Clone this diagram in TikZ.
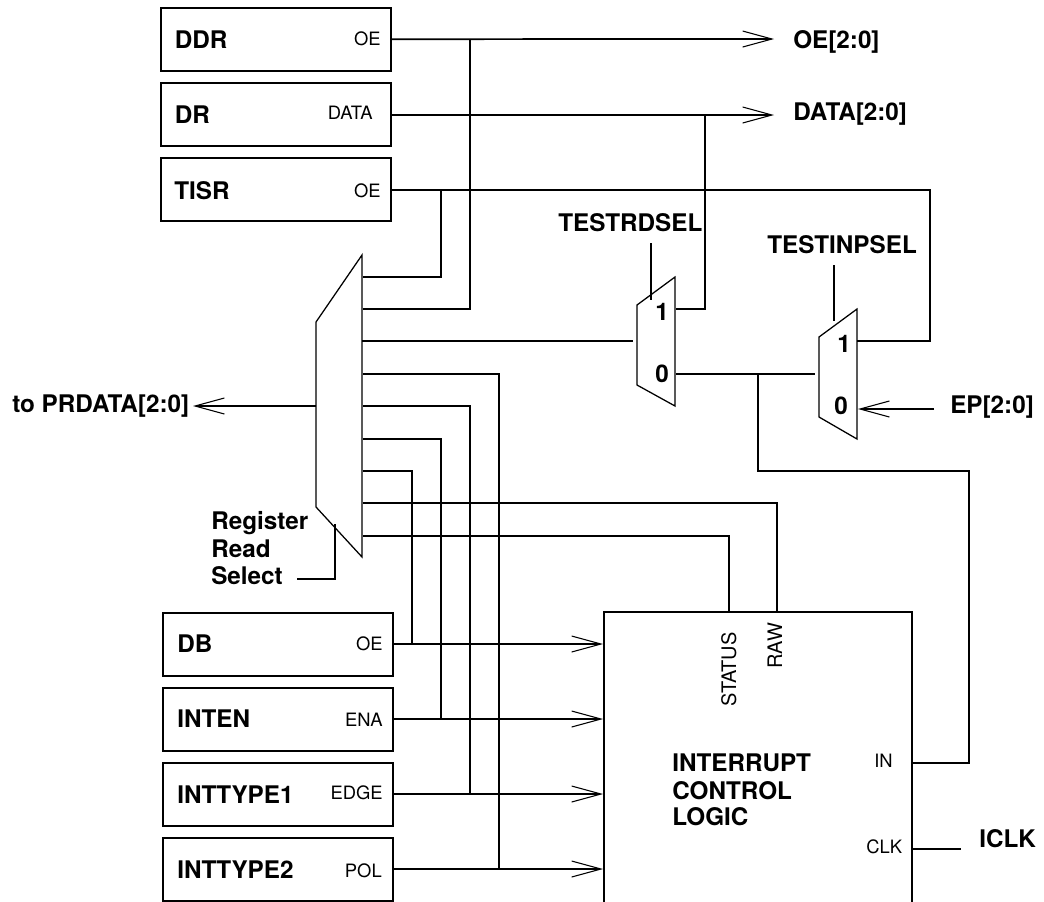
\documentclass[tikz,border=0pt]{standalone}
\usepackage{fontspec}
\setmainfont{TeX Gyre Heros}
\usetikzlibrary{arrows.meta}
\tikzset{
  regbox/.style={draw=black,line width=1.5pt,fill=none,minimum width=172.5pt,minimum height=47.5pt,inner sep=0pt,outer sep=0pt,anchor=north west},
  wire/.style={line width=1.3pt},
  thinwire/.style={line width=0.95pt},
  oarrow/.style={-{Straight Barb[length=22pt,width=12pt,line width=0.8pt]}},
  big/.style={font=\fontsize{18.2}{20}\selectfont\bfseries,inner sep=0pt,anchor=base west},
  small/.style={font=\fontsize{13.8}{16}\selectfont,inner sep=0pt,anchor=base east},
  smallw/.style={font=\fontsize{13.8}{16}\selectfont,inner sep=0pt,anchor=base west},
  smallr/.style={font=\fontsize{15}{16}\selectfont,inner sep=0pt,anchor=base west,rotate=90},
}
\begin{document}
\begin{tikzpicture}[x=0.75pt,y=-0.75pt]
\useasboundingbox (0,0) rectangle (1044,901);
\clip (0,0) rectangle (1044,901);
% register boxes
\node[regbox] (ddr) at (160.5,7.5) {};
\node[regbox] (dr) at (160.5,82.5) {};
\node[regbox] (tisr) at (160.5,158) {};
\node[regbox] (db) at (163,612.5) {};
\node[regbox] (inten) at (163,687.5) {};
\node[regbox] (type1) at (163,763) {};
\node[regbox] (type2) at (163,838) {};
\node[regbox,minimum width=231pt,minimum height=300pt] (icl) at (604,612) {};
% multiplexers
\coordinate (mA) at (362,255); \coordinate (mB) at (316,322); \coordinate (mC) at (316,507); \coordinate (mD) at (362,557);
\draw[thinwire,line join=miter] (mA)--(mB)--(mC)--(mD)--cycle;
\coordinate (xA) at (675,277); \coordinate (xB) at (637,305); \coordinate (xC) at (637,385); \coordinate (xD) at (675,406);
\draw[thinwire] (xA)--(xB)--(xC)--(xD)--cycle;
\coordinate (yA) at (857,309); \coordinate (yB) at (819,337); \coordinate (yC) at (819,417); \coordinate (yD) at (857,439);
\draw[thinwire] (yA)--(yB)--(yC)--(yD)--cycle;
% text
\node[big] (tddr) at (174.5,48) {DDR};
\node[big] (tdr) at (174.5,123) {DR};
\node[big] (ttisr) at (174,199) {TISR};
\node[small] (soe1) at (381,45.5) {OE};
\node[small] (sdata) at (373,119) {DATA};
\node[small] (soe2) at (381,197) {OE};
\node[big] (toe) at (793,48) {OE[2:0]};
\node[big] (tdata) at (793,120) {DATA[2:0]};
\node[big] (trd) at (558,231) {TESTRDSEL};
\node[big] (tinp) at (767,253) {TESTINPSEL};
\node[big] (xone) at (655,320) {1};
\node[big] (xzero) at (655,382) {0};
\node[big] (yone) at (837,352) {1};
\node[big] (yzero) at (834,414) {0};
\node[big] (tep) at (950,413) {EP[2:0]};
\node[big] (tpr) at (12,412) {to PRDATA[2:0]};
\node[big] (r1) at (211,529) {Register};
\node[big] (r2) at (211,557) {Read};
\node[big] (r3) at (211,584) {Select};
\node[big] (tdb) at (177,652) {DB};
\node[big] (tinten) at (177,727) {INTEN};
\node[big] (tt1) at (177,803) {INTTYPE1};
\node[big] (tt2) at (177,878) {INTTYPE2};
\node[small] (soe3) at (383,650) {OE};
\node[small] (sena) at (383,726) {ENA};
\node[small] (sedge) at (383,799) {EDGE};
\node[small] (spol) at (382,877) {POL};
\node[smallr] (sstat) at (736,707) {STATUS};
\node[smallr] (sraw) at (782,669) {RAW};
\node[big] (i1) at (672,771) {INTERRUPT};
\node[big] (i2) at (672,799) {CONTROL};
\node[big] (i3) at (672,825) {LOGIC};
\node[smallw] (sin) at (874,767) {IN};
\node[smallw] (sclk) at (866,853) {CLK};
\node[big] (ticlk) at (979,847) {ICLK};
% end points
\coordinate (oeend) at (774,39);
\coordinate (dataend) at (774,115);
\coordinate (prend) at (193,406);
\coordinate (epstart) at (934,409);
\coordinate (eptip) at (858,409);
\coordinate (clkend) at (961,849);
\coordinate (xin) at (633,341);
\coordinate (yin) at (815,374);
\coordinate (rdtop) at (651,243);
\coordinate (rdbot) at (651,300);
\coordinate (inptop) at (834,265);
\coordinate (inpbot) at (834,321);
\coordinate (selA) at (335,524);
\coordinate (selB) at (335,579);
\coordinate (selC) at (297,579);
% top wires
\draw[wire,oarrow] (ddr.east) -- (oeend);
\draw[wire,oarrow] (391,115) -- (dataend);
\draw[wire] (391,190) -- (930,190) -- (930,341) -- (857,341);
\draw[wire] (470,39) -- (470,309) -- (363,309);
\draw[wire] (441,190) -- (441,277) -- (363,277);
\draw[wire] (362,341) -- (xin);
\draw[wire] (676,309) -- (705,309) -- (705,115);
\draw[wire] (676,374) -- (yin);
\draw[wire] (758,374) -- (758,471) -- (969,471) -- (969,763) -- (912,763);
\draw[wire] (912,849) -- (clkend);
\draw[wire,oarrow] (316,406) -- (prend);
\draw[wire,oarrow] (epstart) -- (eptip);
\draw[wire] (rdtop) -- (rdbot);
\draw[wire] (inptop) -- (inpbot);
\draw[wire] (selA) -- (selB) -- (selC);
% mux to lower registers
\draw[wire] (363,374) -- (499,374) -- (499,869);
\draw[wire] (363,406) -- (470,406) -- (470,794);
\draw[wire] (363,439) -- (441,439) -- (441,719);
\draw[wire] (363,471) -- (412,471) -- (412,644);
\draw[wire] (363,503) -- (777,503) -- (777,612);
\draw[wire] (363,536) -- (729,536) -- (729,612);
% register to logic
\draw[wire,oarrow] (393,644) -- (603,644);
\draw[wire,oarrow] (393,719) -- (603,719);
\draw[wire,oarrow] (393,794) -- (603,794);
\draw[wire,oarrow] (393,869) -- (603,869);
\end{tikzpicture}
\end{document}
